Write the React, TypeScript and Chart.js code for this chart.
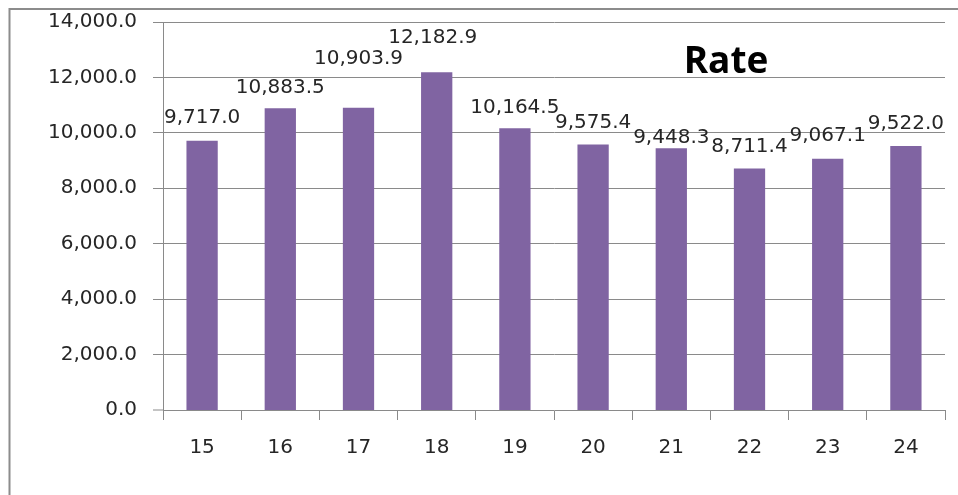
import React, { useEffect, useRef } from "react";
import { Chart, registerables } from "chart.js";

Chart.register(...registerables);

const categories = ["15", "16", "17", "18", "19", "20", "21", "22", "23", "24"];
const rateValues = [9717.0, 10883.5, 10903.9, 12182.9, 10164.5, 9575.4, 9448.3, 8711.4, 9067.1, 9522.0];
const yTickValues = [0, 2000, 4000, 6000, 8000, 10000, 12000, 14000];
const titleText = "Rate";

const labelDy = [-23, -21, -49, -35, -21, -22, -10, -22, -23, -22];
const labelDx = [0, 0, 0, -4, 0, 0, 0, 0, 0, 0];

const FONT = "'DejaVu Sans', Verdana, sans-serif";
const TEXT = "#262626";
const GRID = "#8a8a8a";

const fmt = (v: number) =>
  v.toLocaleString("en-US", { minimumFractionDigits: 1, maximumFractionDigits: 1 });

const decorPlugin = {
  id: "decor",
  beforeDraw(chart: any) {
    const ctx = chart.ctx;
    ctx.save();
    ctx.strokeStyle = "#8c8c8c";
    ctx.lineWidth = 2;
    ctx.beginPath();
    ctx.moveTo(9.5, chart.height);
    ctx.lineTo(9.5, 9);
    ctx.lineTo(chart.width, 9);
    ctx.stroke();
    ctx.restore();
  },
  afterDatasetsDraw(chart: any) {
    const ctx = chart.ctx;
    const meta = chart.getDatasetMeta(0);
    ctx.save();
    ctx.fillStyle = TEXT;
    ctx.font = `20px ${FONT}`;
    ctx.textAlign = "center";
    ctx.textBaseline = "middle";
    meta.data.forEach((bar: any, i: number) => {
      const v = chart.data.datasets[0].data[i];
      ctx.fillText(fmt(v), bar.x + labelDx[i], bar.y + labelDy[i]);
    });
    const area = chart.chartArea;
    ctx.font = `bold 37px 'Open Sans', 'Liberation Sans', sans-serif`;
    ctx.fillStyle = "#000";
    ctx.fillText(titleText, area.right - 219, area.top + 40);
    ctx.restore();
  },
};

export default function App() {
  const ref = useRef<HTMLCanvasElement | null>(null);
  useEffect(() => {
    if (!ref.current) return;
    const chart = new Chart(ref.current, {
      type: "bar",
      data: {
        labels: categories,
        datasets: [
          {
            data: rateValues,
            backgroundColor: "#8064A2",
            borderWidth: 0,
            barPercentage: 0.4,
            categoryPercentage: 1,
          },
        ],
      },
      options: {
        responsive: false,
        animation: false,
        layout: { padding: { top: 22, right: 13, left: 0, bottom: 0 } },
        plugins: { legend: { display: false }, tooltip: { enabled: false }, title: { display: false } },
        scales: {
          x: {
            grid: { drawOnChartArea: false, drawTicks: true, tickLength: 10, color: GRID, offset: true },
            border: { color: GRID, width: 1, z: 1 },
            ticks: { color: TEXT, font: { family: FONT, size: 20 }, padding: 16, maxRotation: 0 },
            afterFit: (s: any) => {
              s.height = 85;
              s.paddingLeft = 0;
              s.paddingRight = 0;
            },
          },
          y: {
            min: 0,
            max: 14000,
            grid: {
              color: GRID,
              tickLength: 10,
              tickWidth: 1,
              tickColor: GRID,
              lineWidth: (c: any) => (c.tick && c.tick.value === 0 ? 0 : 1),
            },
            border: { color: GRID, width: 1 },
            afterBuildTicks: (s: any) => {
              s.ticks = yTickValues.map((v) => ({ value: v }));
            },
            ticks: {
              color: TEXT,
              font: { family: FONT, size: 20 },
              padding: 16,
              callback: (v: any) => fmt(Number(v)),
            },
            afterFit: (s: any) => {
              s.width = 163;
              s.paddingTop = 0;
              s.paddingBottom = 0;
            },
          },
        },
      },
      plugins: [decorPlugin],
    });
    return () => chart.destroy();
  }, []);
  return (
    <div style={{ position: "fixed", left: 0, top: 0, width: 958, height: 495, background: "#fff" }}>
      <canvas ref={ref} width={958} height={495} style={{ width: 958, height: 495, display: "block" }} />
    </div>
  );
}
